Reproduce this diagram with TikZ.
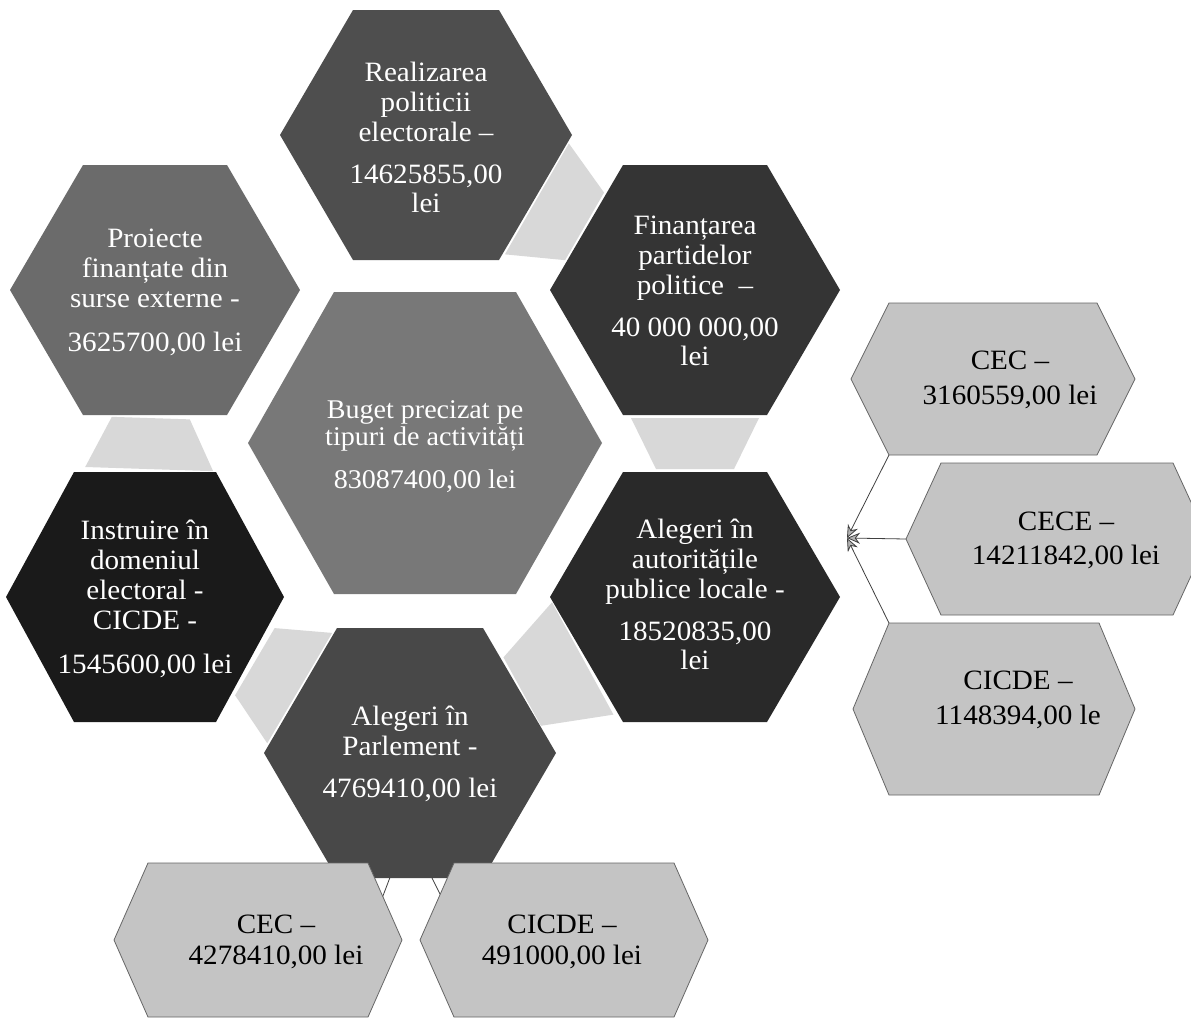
\documentclass[tikz,border=0pt]{standalone}
\usepackage{fontspec}
\setmainfont{Liberation Serif}[FakeStretch=1.04]
\usetikzlibrary{arrows.meta,calc}
\definecolor{cReal}{HTML}{4E4E4E}
\definecolor{cProi}{HTML}{6B6B6B}
\definecolor{cFin}{HTML}{343434}
\definecolor{cBug}{HTML}{787878}
\definecolor{cInstr}{HTML}{1A1A1A}
\definecolor{cAut}{HTML}{292929}
\definecolor{cParl}{HTML}{484848}
\definecolor{cLight}{HTML}{C4C4C4}
\definecolor{cLightEdge}{HTML}{666666}
\definecolor{cConn}{HTML}{D8D8D8}
\newcommand{\hexpoly}[6]{\path[#1] ({#2-#4},#3) -- ({#2-#4+#6},{#3-#5}) -- ({#2+#4-#6},{#3-#5}) -- ({#2+#4},#3) -- ({#2+#4-#6},{#3+#5}) -- ({#2-#4+#6},{#3+#5}) -- cycle;}
\newcommand{\trapconn}[4]{%
  \path ($(#1)!#3pt!(#2)$) coordinate (tA) ($(#1)!#4pt!(#2)$) coordinate (tB);
  \fill[connfill] ($(tA)!64pt!90:(#2)$) -- ($(tA)!64pt!-90:(#2)$) -- ($(tB)!39pt!-90:(#2)$) -- ($(tB)!39pt!90:(#2)$) -- cycle;}
\tikzset{
  connfill/.style={fill=cConn},
  wtext/.style={align=center, text=white, inner sep=0pt, font=\fontsize{28}{30}\selectfont},
  btext/.style={align=center, text=black, inner sep=0pt, font=\fontsize{28}{30}\selectfont},
  lighthex/.style={fill=cLight, draw=cLightEdge, line width=0.8pt},
  conline/.style={draw=black!75, line width=0.8pt},
  hubarrow/.style={-{Stealth[length=13pt,width=11pt,fill=black!30]}},
}
\begin{document}
\begin{tikzpicture}[x=1pt,y=-1pt]
\useasboundingbox (0,0) rectangle (1191,1018);
\clip (0,0) rectangle (1191,1018);
\fill[white] (0,0) rectangle (1191,1018);
% hexagon centres
\coordinate (c-real) at (426,135);
\coordinate (c-proi) at (155,290);
\coordinate (c-fin) at (695,290);
\coordinate (c-bug) at (425,443);
\coordinate (c-instr) at (145,597);
\coordinate (c-aut) at (695,597);
\coordinate (c-parl) at (410,753);
% connector trapezoids
\trapconn{c-real}{c-fin}{128}{183}
\trapconn{c-fin}{c-aut}{128}{179}
\trapconn{c-aut}{c-parl}{128}{197}
\trapconn{c-parl}{c-instr}{128}{180}
\trapconn{c-instr}{c-proi}{128}{179}
% lines from Parlement to its children
\coordinate (parlhub) at (408,830);
\coordinate (cecL-in) at (370,930);
\coordinate (cicdeL-in) at (458,930);
\draw[conline] (parlhub) -- (cecL-in);
\draw[conline] (parlhub) -- (cicdeL-in);
% lines from right children to hub
\coordinate (rhub) at (847,538);
\coordinate (cecR-bl) at (889,455);
\coordinate (ceceR-l) at (906,539);
\coordinate (cicdeR-tl) at (889,623);
\draw[conline,hubarrow] (cecR-bl) -- (rhub);
\draw[conline,hubarrow] (ceceR-l) -- (rhub);
\draw[conline,hubarrow] (cicdeR-tl) -- (rhub);
% hexagons
\hexpoly{fill=cReal}{426}{135}{146}{125}{73}
\hexpoly{fill=cProi}{155}{290}{145}{125}{73}
\hexpoly{fill=cFin}{695}{290}{145}{125}{73}
\hexpoly{fill=cBug}{425}{443}{177}{151}{86}
\hexpoly{fill=cInstr}{145}{597}{139}{125}{68}
\hexpoly{fill=cAut}{695}{597}{145}{125}{73}
\hexpoly{fill=cParl}{410}{753}{146}{125}{73}
\hexpoly{lighthex}{993}{379}{142}{76}{38}
\hexpoly{lighthex}{1057}{539}{151}{76}{35}
\hexpoly{lighthex}{994}{709}{141}{86}{36}
\hexpoly{lighthex}{258}{940}{144}{77}{34}
\hexpoly{lighthex}{564}{940}{144}{77}{34}
% texts
\node[wtext] (real) at (426,137) {Realizarea\\politicii\\electorale –\\[12pt]14625855,00\\[-1pt]lei};
\node[wtext] (proi) at (155,292) {Proiecte\\finanțate din\\surse externe -\\[14pt]3625700,00 lei};
\node[wtext] (fin) at (695,291) {Finanțarea\\partidelor\\politice \ –\\[12pt]40 000 000,00\\[-1pt]lei};
\node[wtext, font=\fontsize{27}{27}\selectfont] (bug) at (425,447) {Buget precizat pe\\tipuri de activități\\[16pt]83087400,00 lei};
\node[wtext] (instr) at (145,599) {Instruire în\\domeniul\\electoral -\\CICDE -\\[14pt]1545600,00 lei};
\node[wtext] (aut) at (695,594) {Alegeri în\\autoritățile\\publice locale -\\[12pt]18520835,00\\[-1pt]lei};
\node[wtext] (parl) at (410,754) {Alegeri în\\Parlement -\\[12pt]4769410,00 lei};
\node[btext] (cecR) at (1010,380) {CEC –\\[5pt]3160559,00 lei};
\node[btext] (ceceR) at (1066,540) {CECE –\\[4pt]14211842,00 lei};
\node[btext] (cicdeR) at (1018,700) {CICDE –\\[5pt]1148394,00 le};
\node[btext] (cecL) at (276,942) {CEC –\\[1pt]4278410,00 lei};
\node[btext] (cicdeL) at (562,942) {CICDE –\\[1pt]491000,00 lei};
\end{tikzpicture}
\end{document}
